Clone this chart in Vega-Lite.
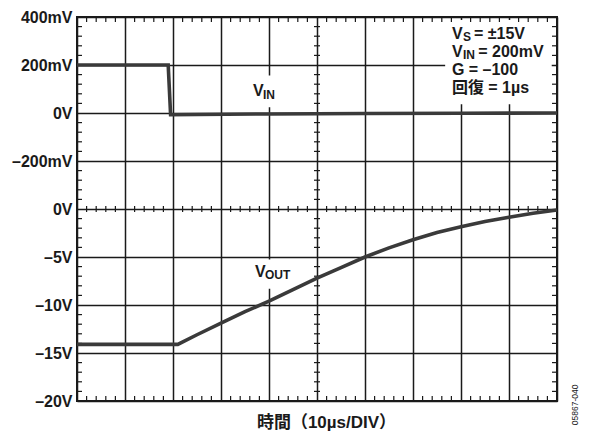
{
  "$schema": "https://vega.github.io/schema/vega-lite/v6.json",
  "width": 480,
  "height": 384,
  "autosize": {"type": "none"},
  "padding": {"left": 77, "top": 17, "right": 33, "bottom": 35},
  "background": "white",
  "config": {
    "view": {"stroke": "#1a1a1a", "strokeWidth": 2},
    "font": "Liberation Sans, Noto Sans CJK JP",
    "axis": {"labelFont": "Liberation Sans", "titleFont": "Liberation Sans, Noto Sans CJK JP"}
  },
  "datasets": {
    "vout": [
      {"t": 0, "v": -14.1}, {"t": 21, "v": -14.1}, {"t": 25, "v": -13.1}, {"t": 30, "v": -11.9},
      {"t": 35, "v": -10.7}, {"t": 40, "v": -9.6}, {"t": 45, "v": -8.4}, {"t": 50, "v": -7.2},
      {"t": 55, "v": -6.1}, {"t": 60, "v": -5.0}, {"t": 65, "v": -4.05}, {"t": 70, "v": -3.2},
      {"t": 75, "v": -2.45}, {"t": 80, "v": -1.85}, {"t": 85, "v": -1.3}, {"t": 90, "v": -0.85},
      {"t": 95, "v": -0.45}, {"t": 100, "v": -0.1}
    ],
    "vin": [
      {"t": 0, "mv": 200}, {"t": 19.0, "mv": 200}, {"t": 19.5, "mv": -7}, {"t": 25, "mv": -6},
      {"t": 40, "mv": -4}, {"t": 60, "mv": -2}, {"t": 80, "mv": -1}, {"t": 100, "mv": 0}
    ],
    "xminor": [
      {"t": 2}, {"t": 4}, {"t": 6}, {"t": 8}, {"t": 12}, {"t": 14}, {"t": 16}, {"t": 18},
      {"t": 22}, {"t": 24}, {"t": 26}, {"t": 28}, {"t": 32}, {"t": 34}, {"t": 36}, {"t": 38},
      {"t": 42}, {"t": 44}, {"t": 46}, {"t": 48}, {"t": 52}, {"t": 54}, {"t": 56}, {"t": 58},
      {"t": 62}, {"t": 64}, {"t": 66}, {"t": 68}, {"t": 72}, {"t": 74}, {"t": 76}, {"t": 78},
      {"t": 82}, {"t": 84}, {"t": 86}, {"t": 88}, {"t": 92}, {"t": 94}, {"t": 96}, {"t": 98}
    ],
    "yminor": [
      {"v": -19}, {"v": -18}, {"v": -17}, {"v": -16}, {"v": -14}, {"v": -13}, {"v": -12}, {"v": -11},
      {"v": -9}, {"v": -8}, {"v": -7}, {"v": -6}, {"v": -4}, {"v": -3}, {"v": -2}, {"v": -1},
      {"v": 1}, {"v": 2}, {"v": 3}, {"v": 4}, {"v": 6}, {"v": 7}, {"v": 8}, {"v": 9},
      {"v": 11}, {"v": 12}, {"v": 13}, {"v": 14}, {"v": 16}, {"v": 17}, {"v": 18}, {"v": 19}
    ],
    "boxes": [
      {"x0": 76.7, "x1": 98.9, "y0": 19.7, "y1": 10.9},
      {"x0": 36.0, "x1": 43.0, "y0": 13.9, "y1": 10.6},
      {"x0": 36.2, "x1": 45.4, "y0": -5.25, "y1": -8.3}
    ],
    "main": [
      {"x": 36.67, "y": 11.77, "text": "V"},
      {"x": 37.08, "y": -7.05, "text": "V"},
      {"x": 78.1, "y": 17.7, "text": "V"},
      {"x": 82.7, "y": 17.7, "text": "= ±15V"},
      {"x": 78.1, "y": 15.83, "text": "V"},
      {"x": 83.6, "y": 15.83, "text": "= 200mV"},
      {"x": 78.1, "y": 13.96, "text": "G = –100"},
      {"x": 78.1, "y": 12.08, "text": "回復 = 1µs"}
    ],
    "subs": [
      {"x": 38.75, "y": 11.46, "text": "IN"},
      {"x": 39.17, "y": -7.29, "text": "OUT"},
      {"x": 80.4, "y": 17.5, "text": "S"},
      {"x": 80.4, "y": 15.63, "text": "IN"}
    ],
    "code": [{"x": 103.75, "y": -20.4, "text": "05867-040"}]
  },
  "resolve": {"scale": {"y": "independent"}, "axis": {"x": "independent", "y": "independent"}},
  "layer": [
    {
      "data": {"name": "boxes"},
      "mark": {"type": "rect", "fill": "white"},
      "encoding": {
        "x": {"field": "x0", "type": "quantitative", "scale": {"domain": [0, 100], "nice": false, "zero": false},
          "axis": {"orient": "bottom", "values": [0,10,20,30,40,50,60,70,80,90,100], "grid": true, "gridColor": "#1a1a1a", "gridWidth": 1.5, "gridOpacity": 1,
            "labels": false, "ticks": false, "domain": false, "zindex": 0,
            "title": "時間（10µs/DIV）", "titleFontSize": 17, "titleFontWeight": "bold", "titleColor": "#1a1a1a", "titlePadding": 13, "titleX": 249, "titleAlign": "center"}},
        "x2": {"field": "x1"},
        "y": {"field": "y0", "type": "quantitative", "scale": {"domain": [-20, 20], "nice": false, "zero": false},
          "axis": {"orient": "left", "values": [-20,-15,-10,-5,0,5,10,15,20], "grid": true, "gridColor": "#1a1a1a", "gridWidth": 1.5, "gridOpacity": 1,
            "ticks": false, "domain": false, "zindex": 0, "title": null,
            "labelFontSize": 16, "labelFontWeight": "bold", "labelColor": "#1a1a1a", "labelPadding": 5,
            "labelExpr": "datum.value == 20 ? '400mV' : datum.value == 15 ? '200mV' : datum.value == 10 ? '0V' : datum.value == 5 ? '–200mV' : datum.value == 0 ? '0V' : datum.value == -5 ? '–5V' : datum.value == -10 ? '–10V' : datum.value == -15 ? '–15V' : '–20V'"}},
        "y2": {"field": "y1"}
      }
    },
    {
      "data": {"name": "xminor"},
      "mark": {"type": "rule", "color": "#1a1a1a", "strokeWidth": 1.2},
      "encoding": {
        "x": {"field": "t", "type": "quantitative", "scale": {"domain": [0, 100], "nice": false, "zero": false}, "axis": null},
        "y": {"datum": 20, "type": "quantitative", "scale": {"domain": [-20, 20], "nice": false, "zero": false}, "axis": null},
        "y2": {"datum": 19.48}
      }
    },
    {
      "data": {"name": "xminor"},
      "mark": {"type": "rule", "color": "#1a1a1a", "strokeWidth": 1.2},
      "encoding": {
        "x": {"field": "t", "type": "quantitative", "scale": {"domain": [0, 100], "nice": false, "zero": false}, "axis": null},
        "y": {"datum": -20, "type": "quantitative", "scale": {"domain": [-20, 20], "nice": false, "zero": false}, "axis": null},
        "y2": {"datum": -19.48}
      }
    },
    {
      "data": {"name": "xminor"},
      "mark": {"type": "rule", "color": "#1a1a1a", "strokeWidth": 1.2},
      "encoding": {
        "x": {"field": "t", "type": "quantitative", "scale": {"domain": [0, 100], "nice": false, "zero": false}, "axis": null},
        "y": {"datum": 0.31, "type": "quantitative", "scale": {"domain": [-20, 20], "nice": false, "zero": false}, "axis": null},
        "y2": {"datum": -0.31}
      }
    },
    {
      "data": {"name": "yminor"},
      "mark": {"type": "rule", "color": "#1a1a1a", "strokeWidth": 1.2},
      "encoding": {
        "y": {"field": "v", "type": "quantitative", "scale": {"domain": [-20, 20], "nice": false, "zero": false}, "axis": null},
        "x": {"datum": 0, "type": "quantitative", "scale": {"domain": [0, 100], "nice": false, "zero": false}, "axis": null},
        "x2": {"datum": 1.04}
      }
    },
    {
      "data": {"name": "yminor"},
      "mark": {"type": "rule", "color": "#1a1a1a", "strokeWidth": 1.2},
      "encoding": {
        "y": {"field": "v", "type": "quantitative", "scale": {"domain": [-20, 20], "nice": false, "zero": false}, "axis": null},
        "x": {"datum": 100, "type": "quantitative", "scale": {"domain": [0, 100], "nice": false, "zero": false}, "axis": null},
        "x2": {"datum": 98.96}
      }
    },
    {
      "data": {"name": "yminor"},
      "mark": {"type": "rule", "color": "#1a1a1a", "strokeWidth": 1.2},
      "encoding": {
        "y": {"field": "v", "type": "quantitative", "scale": {"domain": [-20, 20], "nice": false, "zero": false}, "axis": null},
        "x": {"datum": 49.37, "type": "quantitative", "scale": {"domain": [0, 100], "nice": false, "zero": false}, "axis": null},
        "x2": {"datum": 50.63}
      }
    },
    {
      "data": {"name": "vout"},
      "mark": {"type": "line", "color": "#3a3a3a", "strokeWidth": 3.6},
      "encoding": {
        "x": {"field": "t", "type": "quantitative", "scale": {"domain": [0, 100], "nice": false, "zero": false}, "axis": null},
        "y": {"field": "v", "type": "quantitative", "scale": {"domain": [-20, 20], "nice": false, "zero": false}, "axis": null}
      }
    },
    {
      "data": {"name": "vin"},
      "mark": {"type": "line", "color": "#3a3a3a", "strokeWidth": 3.6},
      "encoding": {
        "x": {"field": "t", "type": "quantitative", "scale": {"domain": [0, 100], "nice": false, "zero": false}, "axis": null},
        "y": {"field": "mv", "type": "quantitative", "scale": {"domain": [-1200, 400], "nice": false, "zero": false}, "axis": null}
      }
    },
    {
      "data": {"name": "main"},
      "mark": {"type": "text", "align": "left", "baseline": "alphabetic", "fontSize": 16, "fontWeight": "bold", "color": "#1a1a1a", "font": "Liberation Sans, Noto Sans CJK JP"},
      "encoding": {
        "x": {"field": "x", "type": "quantitative", "scale": {"domain": [0, 100], "nice": false, "zero": false}, "axis": null},
        "y": {"field": "y", "type": "quantitative", "scale": {"domain": [-20, 20], "nice": false, "zero": false}, "axis": null},
        "text": {"field": "text"}
      }
    },
    {
      "data": {"name": "subs"},
      "mark": {"type": "text", "align": "left", "baseline": "alphabetic", "fontSize": 12, "fontWeight": "bold", "color": "#1a1a1a", "font": "Liberation Sans"},
      "encoding": {
        "x": {"field": "x", "type": "quantitative", "scale": {"domain": [0, 100], "nice": false, "zero": false}, "axis": null},
        "y": {"field": "y", "type": "quantitative", "scale": {"domain": [-20, 20], "nice": false, "zero": false}, "axis": null},
        "text": {"field": "text"}
      }
    },
    {
      "data": {"name": "code"},
      "mark": {"type": "text", "align": "center", "baseline": "middle", "angle": 270, "fontSize": 8.5, "color": "#1a1a1a", "font": "Liberation Sans"},
      "encoding": {
        "x": {"field": "x", "type": "quantitative", "scale": {"domain": [0, 100], "nice": false, "zero": false}, "axis": null},
        "y": {"field": "y", "type": "quantitative", "scale": {"domain": [-20, 20], "nice": false, "zero": false}, "axis": null},
        "text": {"field": "text"}
      }
    }
  ]
}
